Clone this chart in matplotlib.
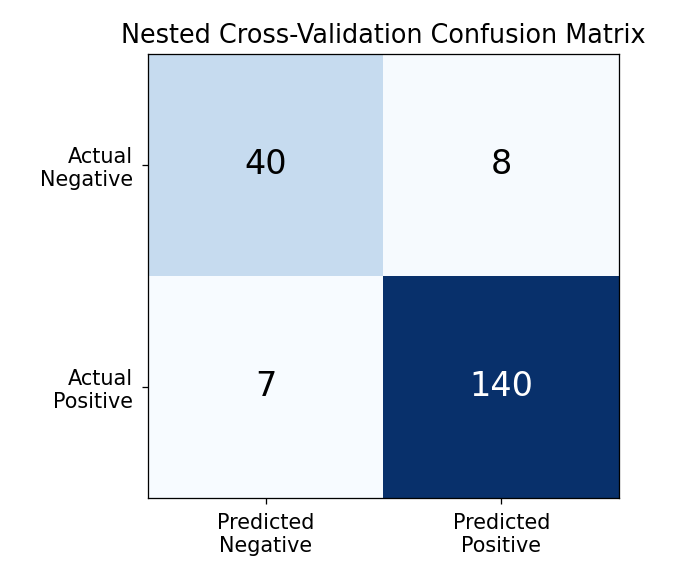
import matplotlib
matplotlib.use("Agg")
import matplotlib.pyplot as plt
import numpy as np

row_labels = ["Actual\nNegative", "Actual\nPositive"]
col_labels = ["Predicted\nNegative", "Predicted\nPositive"]
cm = np.array([[40, 8],
               [7, 140]])

dpi = 115
fig = plt.figure(figsize=(688 / dpi, 579 / dpi), dpi=dpi)
ax = fig.add_axes([148 / 688, 1 - 498 / 579, 471 / 688, 444 / 579])
ax.imshow(cm, cmap="Blues", aspect="auto", interpolation="nearest")

thresh = cm.max() / 2
for i in range(cm.shape[0]):
    for j in range(cm.shape[1]):
        color = "white" if cm[i, j] > thresh else "black"
        ax.text(j, i, str(cm[i, j]), ha="center", va="center",
                fontsize=21, color=color)

ax.set_xticks(range(len(col_labels)))
ax.set_xticklabels(col_labels, fontsize=13)
ax.set_yticks(range(len(row_labels)))
ax.set_yticklabels(row_labels, fontsize=13)
ax.tick_params(axis="both", pad=6)
ax.set_title("Nested Cross-Validation Confusion Matrix", fontsize=16, pad=7)

fig.savefig("out.png", dpi=dpi)
